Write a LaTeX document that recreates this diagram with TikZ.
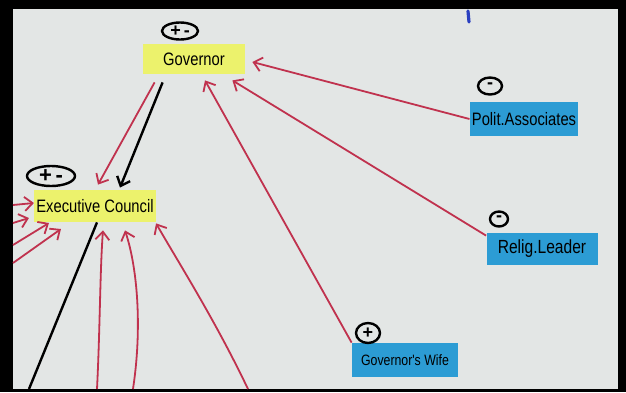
\documentclass[tikz,border=0pt]{standalone}
\usepackage{fontspec}
\setmainfont{Liberation Sans}
\newfontfamily\hand[FakeStretch=0.82]{Liberation Sans}
\usetikzlibrary{arrows.meta,positioning,calc,shapes.geometric}
\definecolor{NoteYellow}{HTML}{ECF26C}
\definecolor{NoteBlue}{HTML}{2C9CD4}
\definecolor{InkRed}{HTML}{C0324E}
\definecolor{InkBlue}{HTML}{2A3FC0}
\definecolor{Board}{HTML}{E3E6E5}
\tikzset{>={Straight Barb[length=4pt,width=7pt]},postit/.style={fill=NoteYellow,
 inner sep=1pt,minimum height=15pt,font=\hand\fontsize{9}{10}\selectfont},card/.style={
 fill=NoteBlue,inner sep=1pt,minimum height=17pt,font=\hand\fontsize{9}{10}\selectfont},
 sign/.style={ellipse,draw=black,line width=1.2pt,inner sep=0pt,font=\bfseries\fontsize{9}{9}\selectfont},
 link/.style={draw=InkRed,line width=0.9pt,->},tie/.style={draw=black,line width=1.2pt}}

\begin{document}
\begin{tikzpicture}[x=0.5pt,y=-0.5pt]
\fill[black] (0,0) rectangle (626,392);
\fill[Board] (13,9) rectangle (618,389);
\draw[InkBlue,line width=1.6pt,line cap=round] (468,11)--(469,22);
% notes
\node[postit,minimum width=51pt] (gov) at (194,59) {Governor};
\node[postit,minimum width=55pt,minimum height=16pt] (ec) at (95,206) {Executive Council};
\node[card,minimum width=52.5pt] (polit) at (524,119) {Polit.Associates};
\node[card,minimum width=55.5pt,minimum height=16pt,font=\hand\fontsize{9.5}{10}\selectfont] (relig) at (542,249) {Relig.Leader};
\node[card,minimum width=53pt,font=\hand\fontsize{7.5}{8}\selectfont] (wife) at (405,360) {Governor's Wife};
% signs
\node[sign,minimum width=18pt,minimum height=8.5pt] (govsign) at (180,31) {+\,-};
\node[sign,minimum width=24pt,minimum height=10pt,font=\bfseries\fontsize{11}{11}\selectfont] (ecsign) at (51,176) {+\,-};
\node[sign,minimum width=12pt,minimum height=8.5pt] (politsign) at (490,86) {-};
\node[sign,minimum width=9pt,minimum height=7.5pt] (religsign) at (499,219) {-};
\node[sign,minimum width=12pt,minimum height=10pt] (wifesign) at (368,333) {+};
% into the governor
\draw[link] (polit.west)--($(gov.east)+(7,3)$);
\draw[link] ($(relig.north west)+(0,3)$)--($(gov.south east)+(-13,6)$);
\draw[link] (wife.north west)--($(gov.south)+(11,6)$);
% governor to council
\draw[link] ($(gov.south west)+(12,8)$)--($(ec.north)+(3,-5)$);
\draw[tie,->] ($(gov.south west)+(20,8)$)--($(ec.north)+(25,-2)$);
\coordinate (down) at (29,389);
\draw[tie] ($(ec.south)+(2,0)$)--(down);
% into the council from below
\coordinate (b1) at (97,389); \coordinate (b2) at (133,389); \coordinate (b3) at (248,389);
\draw[link] (b1) .. controls (100,330) and (100,270) .. ($(ec.south)+(8,8)$);
\draw[link] (b2) .. controls (142,330) and (138,270) .. ($(ec.south)+(30,8)$);
\draw[link] (b3) .. controls (215,320) and (180,265) .. ($(ec.south east)+(0,1)$);
% into the council from the left
\foreach \k/\y/\dx/\dy in {1/205/0/-3,2/223/-5/12,3/245/15/17,4/263/27/23}
 {\coordinate (l\k) at (13,\y);
  \draw[link] (l\k)--($(ec.west)+(\dx,\dy)$);}
\end{tikzpicture}
\end{document}
